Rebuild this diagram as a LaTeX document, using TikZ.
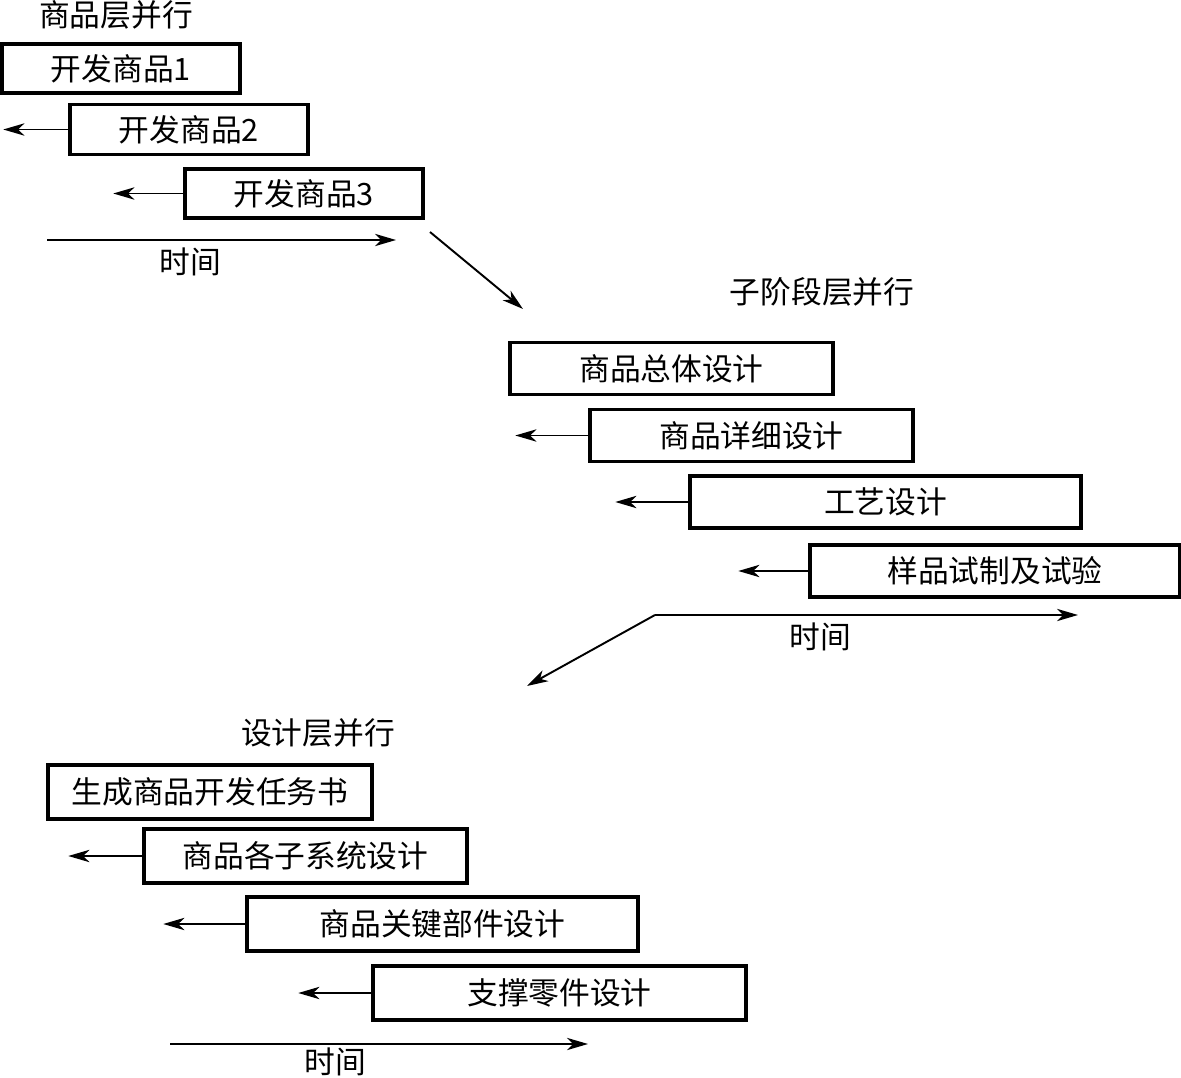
\documentclass[tikz,border=0pt]{standalone}
\usepackage{fontspec}
\usepackage{tikz}
\usetikzlibrary{arrows.meta, positioning, calc}
\newfontfamily\cjk{Noto Sans CJK SC}

\begin{document}
\begin{tikzpicture}[x=0.02cm, y=-0.02cm,
          bx/.style={draw, line width=2pt, minimum height=1.04cm,
                     inner sep=0pt, font=\cjk\fontsize{17.5}{20}\selectfont},
          lbl/.style={font=\cjk\fontsize{17.5}{20}\selectfont},
          arr/.style={-{Stealth[length=12pt, width=7pt, inset=3.5pt]}, line width=1.1pt}
        ]
        \useasboundingbox (0,0) rectangle (1181,1078);

        % product level
        \node[lbl] (t1) at (116, 15) {商品层并行};
        \node[bx, minimum width=4.76cm, minimum height=0.98cm] (p1) at (121, 68.5) {开发商品1};
        \node[bx, minimum width=4.76cm, minimum height=1.0cm] (p2) at (189, 129.5) {开发商品2};
        \node[bx, minimum width=4.76cm, minimum height=0.98cm] (p3) at (304, 193.5) {开发商品3};
        \draw[arr] (p2.west) -- ++(-65,0);
        \draw[arr] (p3.west) -- ++(-70,0);
        \coordinate (ta1) at (47, 240);
        \coordinate (tb1) at (396, 240);
        \draw[arr] (ta1) -- (tb1);
        \node[lbl] (time1) at (190, 262) {时间};

        \coordinate (d1a) at (430, 232);
        \coordinate (d1b) at (523, 309);
        \draw[arr] (d1a) -- (d1b);

        % sub-stage level
        \node[lbl] (t2) at (822, 292) {子阶段层并行};
        \node[bx, minimum width=6.46cm] (s1) at (671.5, 368.5) {商品总体设计};
        \node[bx, minimum width=6.46cm] (s2) at (751.5, 435.5) {商品详细设计};
        \node[bx, minimum width=7.82cm] (s3) at (885.5, 502) {工艺设计};
        \node[bx, minimum width=7.40cm] (s4) at (995, 571) {样品试制及试验};
        \draw[arr] (s2.west) -- ++(-73,0);
        \draw[arr] (s3.west) -- ++(-73,0);
        \draw[arr] (s4.west) -- ++(-70,0);
        \coordinate (ta2) at (655, 615);
        \coordinate (tb2) at (1078, 615);
        \coordinate (tc2) at (527, 686);
        \draw[arr] (ta2) -- (tb2);
        \draw[arr] (ta2) -- (tc2);
        \node[lbl] (time2) at (820, 637) {时间};

        % design level
        \node[lbl] (t3) at (318, 733) {设计层并行};
        \node[bx, minimum width=6.48cm, minimum height=1.08cm] (g1) at (210, 792) {生成商品开发任务书};
        \node[bx, minimum width=6.46cm, minimum height=1.08cm] (g2) at (305.5, 856) {商品各子系统设计};
        \node[bx, minimum width=7.82cm, minimum height=1.08cm] (g3) at (442.5, 924) {商品关键部件设计};
        \node[bx, minimum width=7.46cm, minimum height=1.08cm] (g4) at (559.5, 993) {支撑零件设计};
        \draw[arr] (g2.west) -- ++(-74,0);
        \draw[arr] (g3.west) -- ++(-82,0);
        \draw[arr] (g4.west) -- ++(-73,0);
        \coordinate (ta3) at (170, 1044);
        \coordinate (tb3) at (588, 1044);
        \draw[arr] (ta3) -- (tb3);
        \node[lbl] (time3) at (335, 1062) {时间};
\end{tikzpicture}
\end{document}
